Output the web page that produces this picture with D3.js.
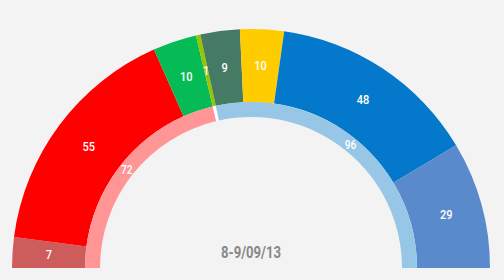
<!DOCTYPE html>
<html>
<head>
  <meta charset="utf-8">
  <script src="https://cdnjs.cloudflare.com/ajax/libs/d3/7.8.5/d3.min.js"></script>
  <style>
    body { margin: 0; background: #f3f3f3; }
    text { font-family: Roboto, "Noto Sans", sans-serif; }
  </style>
</head>
<body>
  <div id="canvas"></div>
  <script>
    // seats per party, left to right
    var seats = [7, 55, 10, 1, 9, 10, 48, 29];
    var seatColors = ["#cd5c5c", "#fe0000", "#05bb55", "#99c400", "#457a64", "#ffcc00", "#0479cc", "#598bcc"];
    // blocs (inner ring); middle one is the unaligned gap
    var blocs = [72, 1, 96];
    var blocColors = ["#ff9595", "#ffffff", "#98c6e6"];
    var blocLabels = ["72", "", "96"];
    var dateLabel = "8-9/09/13";

    var width = 504, height = 280,
      cx = 251, cy = 268,
      rOuter = 239, rMid = 166, rInner = 151,
      squeeze = 0.85; // fake a condensed face

    var svg = d3.select("#canvas").append("svg")
      .attr("width", width)
      .attr("height", height);

    var g = svg.append("g")
      .attr("transform", "translate(" + cx + "," + cy + ")");

    var pie = d3.pie().sort(null).value(d => d)
      .startAngle(-Math.PI / 2).endAngle(Math.PI / 2);

    var outerArc = d3.arc().innerRadius(rMid).outerRadius(rOuter);
    var innerArc = d3.arc().innerRadius(rInner).outerRadius(rMid);

    // outer ring
    var outer = g.append("g");
    outer.selectAll("path")
      .data(pie(seats))
      .enter().append("path")
      .attr("d", outerArc)
      .attr("fill", (d, i) => seatColors[i]);

    outer.selectAll("text")
      .data(pie(seats))
      .enter().append("text")
      .attr("transform", d => "translate(" + outerArc.centroid(d) + ") scale(" + squeeze + ",1)")
      .attr("text-anchor", "middle")
      .attr("dy", "0.35em")
      .attr("fill", "#fff")
      .attr("font-size", 13)
      .attr("font-weight", 500)
      .text(d => d.data);

    // inner ring
    var inner = g.append("g");
    inner.selectAll("path")
      .data(pie(blocs))
      .enter().append("path")
      .attr("d", innerArc)
      .attr("fill", (d, i) => blocColors[i]);

    inner.selectAll("text")
      .data(pie(blocs))
      .enter().append("text")
      .attr("transform", d => "translate(" + innerArc.centroid(d) + ") scale(" + squeeze + ",1)")
      .attr("text-anchor", "middle")
      .attr("dy", "0.35em")
      .attr("fill", "#fff")
      .attr("font-size", 12)
      .attr("font-weight", 500)
      .text((d, i) => blocLabels[i]);

    g.append("text")
      .attr("transform", "translate(0,-10) scale(0.82,1)")
      .attr("text-anchor", "middle")
      .attr("fill", "#888")
      .attr("font-size", 16)
      .attr("font-weight", 700)
      .text(dateLabel);
  </script>
</body>
</html>
